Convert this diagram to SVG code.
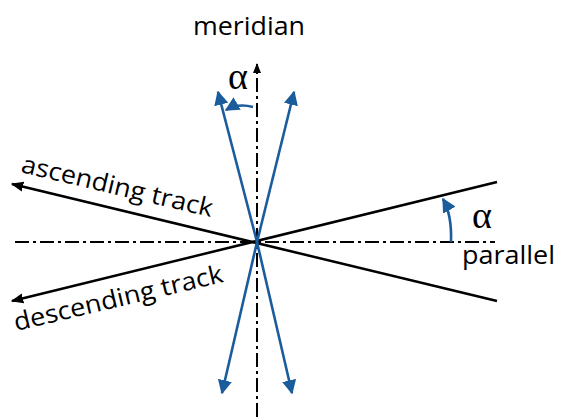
<svg xmlns="http://www.w3.org/2000/svg" width="565" height="417" viewBox="0 0 565 417">
<style>
.lbl{font-family:"Open Sans","Liberation Sans",sans-serif;font-size:25px;fill:#000}
.alpha{font-family:"Liberation Serif",serif;font-size:38px;fill:#000}
.axis{stroke:#000;stroke-width:2;fill:none;stroke-dasharray:14 4 3 4}
.trk{stroke:#000;stroke-width:2.5;fill:none}
.blue{stroke:#1a5c9c;stroke-width:2.6;fill:none}
</style>
<defs>
<marker id="ab" viewBox="0 0 10 10" refX="9" refY="5" markerWidth="5" markerHeight="5" orient="auto" markerUnits="strokeWidth"><path d="M0,1 L10,5 L0,9 z" fill="#000"/></marker>
<marker id="abl" viewBox="0 0 10 10" refX="9" refY="5" markerWidth="5.5" markerHeight="5.5" orient="auto" markerUnits="strokeWidth"><path d="M0,0 L10,5 L0,10 z" fill="#1a5c9c"/></marker>
</defs>
<g id="connectors">
<line class="axis" x1="15" y1="242" x2="495" y2="242"/>
<line class="axis" x1="257" y1="417" x2="257" y2="64" marker-end="url(#ab)"/>
<line class="trk" x1="497" y1="301" x2="12" y2="184" marker-end="url(#ab)"/>
<line class="trk" x1="497" y1="182" x2="12" y2="301" marker-end="url(#ab)"/>
<line class="blue" x1="257" y1="242" x2="218" y2="92" marker-end="url(#abl)"/>
<line class="blue" x1="257" y1="242" x2="294" y2="92" marker-end="url(#abl)"/>
<line class="blue" x1="257" y1="242" x2="222" y2="393" marker-end="url(#abl)"/>
<line class="blue" x1="257" y1="242" x2="292" y2="393" marker-end="url(#abl)"/>
<path class="blue" d="M253,107 Q238,103 226,110" marker-end="url(#abl)"/>
<path class="blue" d="M451,242 Q452,215 443,199" marker-end="url(#abl)"/>
</g>
<g id="meridian"><text class="lbl" x="193" y="35" textLength="112" lengthAdjust="spacingAndGlyphs">meridian</text></g>
<g id="parallel"><text class="lbl" x="462" y="264" textLength="93" lengthAdjust="spacingAndGlyphs">parallel</text></g>
<g id="alpha-top"><text class="alpha" x="238" y="89" text-anchor="middle">α</text></g>
<g id="alpha-right"><text class="alpha" x="482" y="228" text-anchor="middle">α</text></g>
<g id="ascending"><text class="lbl" transform="translate(20,172) rotate(13.3)" textLength="196" lengthAdjust="spacingAndGlyphs">ascending track</text></g>
<g id="descending"><text class="lbl" transform="translate(16,331) rotate(-13.3)" textLength="214" lengthAdjust="spacingAndGlyphs">descending track</text></g>
</svg>
